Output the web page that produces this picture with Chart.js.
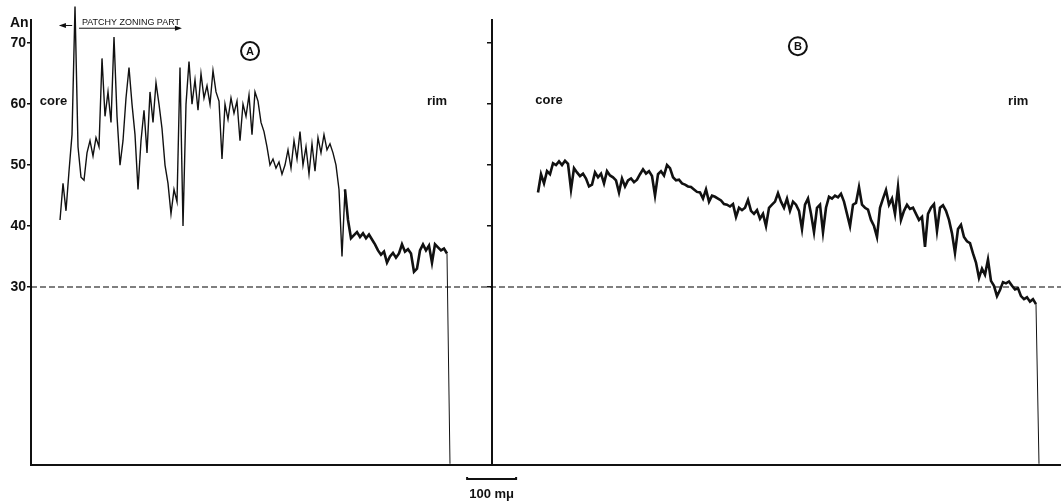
<!DOCTYPE html>
<html lang="en">
<head>
  <meta charset="UTF-8">
  <title>An profiles A and B</title>
  <script src="https://cdn.jsdelivr.net/npm/chart.js"></script>
  <style>
   body { margin: 0; background: #fff; }
   #wrap { width: 1061px; height: 502px; }
  </style>
</head>
<body>
  <div id="wrap"><canvas id="myChart" width="1061" height="502"></canvas></div>

  <script>
    // An content, one reading every 3 px (~6.12 µm)
    const sampleStep = 6.122;          // µm between readings
    const startA = 59.2;               // µm, first reading of profile A
    const startB = 1034.7;             // µm, first reading of profile B
    const profileA = [
      41, 47, 42.5, 49, 55, 76, 53, 48, 47.5, 52,
      54, 51.5, 54.5, 53, 67.5, 58, 62, 57, 71, 58,
      50, 54, 61, 66, 60, 55, 46, 54, 59, 52,
      62, 57, 63.5, 60, 56, 50, 47, 42, 46, 44,
      66, 40, 60, 67, 60, 64, 59, 65, 61, 63,
      60, 65.5, 62, 60.5, 51, 60, 57.5, 61, 58.5, 60.5,
      54, 60, 58, 61.5, 55, 62, 60.5, 57, 55.5, 53,
      50, 51, 49.5, 50.5, 48.5, 50, 52.5, 49.5, 54, 51,
      55.5, 50, 53, 48.5, 53.5, 49, 54.5, 52, 55, 52.5,
      53.5, 52, 50, 46, 35, 46, 41, 38, 38.5, 39,
      38.2, 38.8, 38, 38.6, 37.8, 37, 36, 35.3, 35.8, 34,
      35, 35.6, 34.8, 35.5, 37, 35.8, 36.2, 35.5, 32.5, 33,
      36, 37, 36, 36.8, 34, 37, 36.5, 36, 36.3, 35.5,
      1
    ];
    const profileB = [
      45.5, 48.5, 47, 49, 48.5, 50.3, 50, 50.6, 50, 50.7,
      50.2, 46, 49.5, 48.8, 48.2, 48.6, 47.8, 46.5, 46.8, 48.8,
      48, 48.6, 47, 49, 48.3, 48, 47.5, 45.5, 47.8, 46.5,
      47.5, 47.8, 47.2, 47.6, 48.5, 49.3, 48.6, 49, 48.2, 45,
      48.5, 49, 48.3, 50, 49.5, 48, 47.5, 47.6, 47, 46.8,
      46.5, 46.4, 46, 45.6, 45.5, 44.5, 46, 44, 45, 44.8,
      44.5, 44.2, 43.6, 43.5, 43.2, 43.6, 41.5, 43, 42.6, 43,
      44.3, 42.5, 42, 42.6, 41.2, 42, 40, 43, 43.5, 44,
      45.4, 44, 43, 44.5, 42.5, 44, 43.5, 42.5, 39.5, 43.5,
      44.5, 42, 39, 43, 43.5, 39, 43, 44.8, 44.5, 45,
      44.7, 45.3, 44, 42, 40, 43.5, 43.8, 46.4, 43.5, 43,
      42.7, 41, 40, 38.2, 43, 44.5, 45.9, 43.5, 44.5, 42,
      46.4, 41, 42.5, 43.5, 42.8, 43, 42, 41, 41.5, 36.6,
      42, 43, 43.6, 39.2, 43, 43.4, 42.5, 41, 38.8, 35.6,
      39.5, 40.2, 38.2, 37.5, 37.2, 35.5, 34, 31.5, 33, 32,
      34.5, 31, 30.2, 28.5, 29.5, 30.8, 30.6, 30.9, 30.2, 29.6,
      29.8, 28.5, 28, 28.3, 27.6, 28, 27.2, 1
    ];
    const tickValues = [30, 40, 50, 60, 70];
    const refLevel = 30;               // dashed An 30 line
    const xRange = [0, 2102];          // µm
    const yRange = [0.8, 73.8];        // An
    const midAxisAt = 940.8;           // µm, axis between the two traces
    const scaleBar = [890, 990];       // 100 µm
    const patchyEnd = 640;             // µm, end of the patchy part of A (trace gets denser after)

    const ink = '#111';
    const fontFam = '"Liberation Sans", Arial, sans-serif';

    function toPoints(start, values) {
      return values.map((v, i) => ({ x: start + i * sampleStep, y: v }));
    }

    // labels drawn in data units: [text, x µm, y An]
    const wordLabels = [['core', 18, 59.8], ['rim', 808, 59.8], ['core', 1029, 60], ['rim', 1994, 59.8]];
    const circledLabels = [['A', 447, 68.7], ['B', 1565, 69.5]];

    const notesPlugin = {
      id: 'notes',
      afterDraw(chart) {
        const ctx = chart.ctx, xs = chart.scales.x, ys = chart.scales.y, area = chart.chartArea;
        ctx.save();
        ctx.fillStyle = ink; ctx.strokeStyle = ink;
        ctx.textBaseline = 'alphabetic';

        ctx.font = 'bold 14px ' + fontFam;
        ctx.textAlign = 'left';
        ctx.fillText('An', area.left - 21, ys.getPixelForValue(72.6));

        ctx.font = 'bold 13px ' + fontFam;
        wordLabels.forEach(([t, x, y]) => ctx.fillText(t, xs.getPixelForValue(x), ys.getPixelForValue(y)));

        // circled panel letters
        circledLabels.forEach(([t, x, y]) => {
          const cx = xs.getPixelForValue(x), cy = ys.getPixelForValue(y);
          ctx.lineWidth = 2;
          ctx.beginPath(); ctx.arc(cx, cy, 9, 0, Math.PI * 2); ctx.stroke();
          ctx.font = 'bold 11px ' + fontFam; ctx.textAlign = 'center'; ctx.textBaseline = 'middle';
          ctx.fillText(t, cx, cy + 0.5);
        });

        // patchy zoning part marker
        ctx.textAlign = 'left'; ctx.textBaseline = 'alphabetic';
        ctx.font = '9px ' + fontFam;
        const tx0 = xs.getPixelForValue(104), tx1 = xs.getPixelForValue(304);
        ctx.fillText('PATCHY ZONING PART', tx0, ys.getPixelForValue(73.0), tx1 - tx0);
        ctx.lineWidth = 1;
        const uy = ys.getPixelForValue(72.45);
        ctx.beginPath(); ctx.moveTo(xs.getPixelForValue(98), uy); ctx.lineTo(tx1, uy); ctx.stroke();
        ctx.beginPath(); ctx.moveTo(tx1 + 2, uy); ctx.lineTo(tx1 - 5, uy - 2.5); ctx.lineTo(tx1 - 5, uy + 2.5); ctx.fill();
        const ly = ys.getPixelForValue(72.9), lx0 = xs.getPixelForValue(59), lx1 = xs.getPixelForValue(84);
        ctx.beginPath(); ctx.moveTo(lx1, ly); ctx.lineTo(lx0, ly); ctx.stroke();
        ctx.beginPath(); ctx.moveTo(lx0 - 1, ly); ctx.lineTo(lx0 + 6, ly - 2.5); ctx.lineTo(lx0 + 6, ly + 2.5); ctx.fill();

        // 100 µm scale bar
        const bx0 = xs.getPixelForValue(scaleBar[0]), bx1 = xs.getPixelForValue(scaleBar[1]);
        const by = area.bottom + 14;
        ctx.lineWidth = 2;
        ctx.beginPath(); ctx.moveTo(bx0, by - 2); ctx.lineTo(bx0, by); ctx.lineTo(bx1, by); ctx.lineTo(bx1, by - 2); ctx.stroke();
        ctx.font = 'bold 13px ' + fontFam; ctx.textAlign = 'center';
        ctx.fillText('100 mμ', (bx0 + bx1) / 2, area.bottom + 33);
        ctx.restore();
      }
    };

    const yAxisBase = {
      type: 'linear', min: yRange[0], max: yRange[1],
      afterBuildTicks: s => { s.ticks = tickValues.map(v => ({ value: v })); },
      grid: { drawOnChartArea: false, drawTicks: true, tickLength: 4, color: ink, lineWidth: 1.5 },
      border: { display: true, color: ink, width: 2 }
    };

    // final drop to the baseline is a single thin pen stroke
    const thinDrop = c => (c.p1.parsed.y < 5 ? 1 : undefined);

    new Chart(document.getElementById('myChart').getContext('2d'), {
      type: 'line',
      data: {
        datasets: [
          { label: 'A', data: toPoints(startA, profileA), borderColor: ink, borderWidth: 1.4, clip: false,
            segment: { borderWidth: c => thinDrop(c) || (c.p0.parsed.x > patchyEnd ? 2.6 : undefined) } },
          { label: 'B', data: toPoints(startB, profileB), borderColor: ink, borderWidth: 2.6,
            segment: { borderWidth: thinDrop } },
          { label: 'An 30', data: [{ x: xRange[0], y: refLevel }, { x: xRange[1], y: refLevel }],
            borderColor: '#000', borderWidth: 1.2, borderDash: [6, 3] }
        ]
      },
      options: {
        responsive: false,
        animation: false,
        layout: { padding: { top: 20, bottom: 37, left: 0, right: 0 } },
        elements: { point: { radius: 0 }, line: { tension: 0 } },
        plugins: { legend: { display: false }, tooltip: { enabled: false } },
        scales: {
          x: {
            type: 'linear', min: xRange[0], max: xRange[1],
            ticks: { display: false }, grid: { display: false },
            border: { display: true, color: ink, width: 2 },
            afterFit: s => { s.height = 0; }
          },
          y: Object.assign({}, yAxisBase, {
            ticks: { color: ink, padding: 1, font: { family: fontFam, size: 14, weight: 'bold' } },
            afterFit: s => { s.width = 31; }
          }),
          yMid: Object.assign({}, yAxisBase, {
            position: { x: midAxisAt },
            ticks: { display: false }
          })
        }
      },
      plugins: [notesPlugin]
    });
  </script>
</body>
</html>
